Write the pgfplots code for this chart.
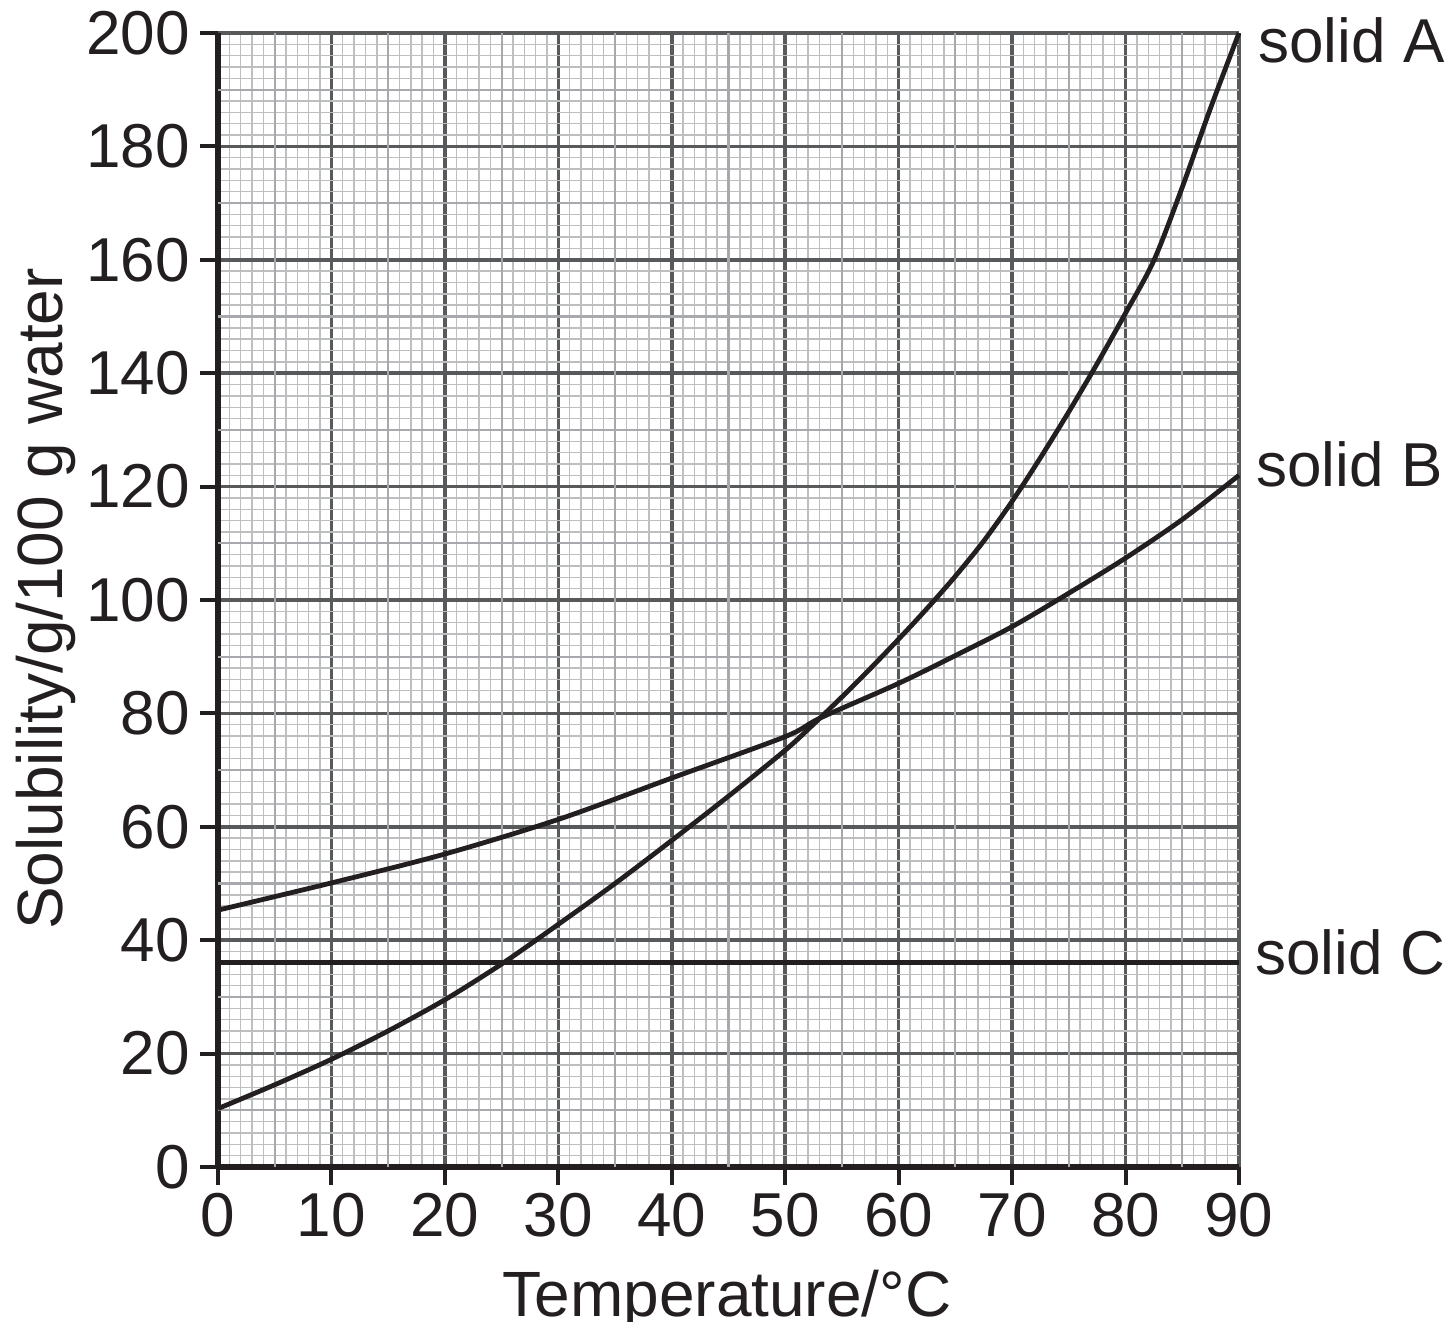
\documentclass[border=0pt]{standalone}
\usepackage{fontspec}
\setmainfont{Liberation Sans}
\usepackage{pgfplots}
\pgfplotsset{compat=1.18}
\usetikzlibrary{calc}
\definecolor{ink}{HTML}{231F20}
\definecolor{gmajor}{HTML}{58595B}
\definecolor{gmid}{HTML}{A7A9AC}
\definecolor{gminor}{HTML}{BCBEC0}
\newcommand{\bigf}{\fontsize{31}{36}\selectfont}
\newcommand{\labf}{\fontsize{32}{38}\selectfont}
\begin{document}
\begin{tikzpicture}
\begin{axis}[name=ax, at={(0,0)}, anchor=south west,
  scale only axis, width=510.5pt, height=567pt,
  xmin=0, xmax=90, ymin=0, ymax=200,
  xtick={0,10,...,90}, ytick={0,20,...,200},
  minor x tick num=9, minor y tick num=9,
  grid=both,
  major grid style={gmajor, line width=1.75pt},
  minor grid style={gminor, line width=0.7pt},
  extra x ticks={5,15,...,85}, extra y ticks={10,30,...,190},
  extra x tick labels={}, extra y tick labels={},
  extra tick style={grid=major, major grid style={gmid, line width=1.1pt}, major tick length=0pt},
  axis lines=left,
  axis line style={-, ink, line width=2.6pt},
  every outer x axis line/.append style={-},
  every outer y axis line/.append style={-},
  tick align=outside, major tick length=9pt, minor tick length=0pt,
  tick style={ink, line width=2pt},
  /pgf/number format/assume math mode=true,
  ticklabel style={font=\bigf, text=ink, inner sep=0pt},
  xticklabel style={yshift=-4pt},
  yticklabel style={xshift=-5pt},
  clip=false,
]
\addplot[ink, line width=2.4pt, smooth, tension=0.5] coordinates {
(0,10.3) (5,14.5) (10,19) (15,24) (20,29.5) (25,35.8) (30,42.8) (35,50.0) (40,57.6) (45,65.4) (50,73.5) (52.5,78.1) (55,82.9) (57.5,87.9) (60,93.1) (62.5,98.5) (65,104.2) (67.5,110.4) (70,117.4) (72.5,125.1) (75,133.2) (77.5,141.7) (80,150.6) (82.5,159.9) (85,172.8) (87.5,186.8) (90,200)
};
\addplot[ink, line width=2.4pt, smooth, tension=0.5] coordinates {
(0,45.3) (10,50.1) (20,55.2) (30,61.3) (40,68.6) (50,75.9) (53.1,79.2) (60,85.3) (65,90.2) (70,95.3) (75,101.2) (80,107.4) (85,114.2) (90,122)
};
\addplot[ink, line width=2.4pt] coordinates {(0,36) (90,36)};
\node[anchor=base west, inner sep=0pt, font=\bigf, text=ink, xshift=9.5pt, yshift=-15pt] at (axis cs:90,200) {solid A};
\node[anchor=base west, inner sep=0pt, font=\bigf, text=ink, xshift=8.5pt, yshift=-5.8pt] at (axis cs:90,122) {solid B};
\node[anchor=base west, inner sep=0pt, font=\bigf, text=ink, xshift=8pt, yshift=-6pt] at (axis cs:90,36) {solid C};
\end{axis}
\node[anchor=base, inner sep=0pt, font=\labf, text=ink] at ($(ax.south west)+(254.5pt,-75pt)$) {Temperature/°C};
\node[anchor=base, rotate=90, inner sep=0pt, font=\labf, text=ink] at ($(ax.south west)+(-77.5pt,284pt)$) {Solubility/g/100 g water};
\pgfresetboundingbox
\path[use as bounding box] ($(ax.south west)+(-109pt,-77.5pt)$) rectangle ($(ax.south west)+(617pt,583.5pt)$);
\end{tikzpicture}
\end{document}
